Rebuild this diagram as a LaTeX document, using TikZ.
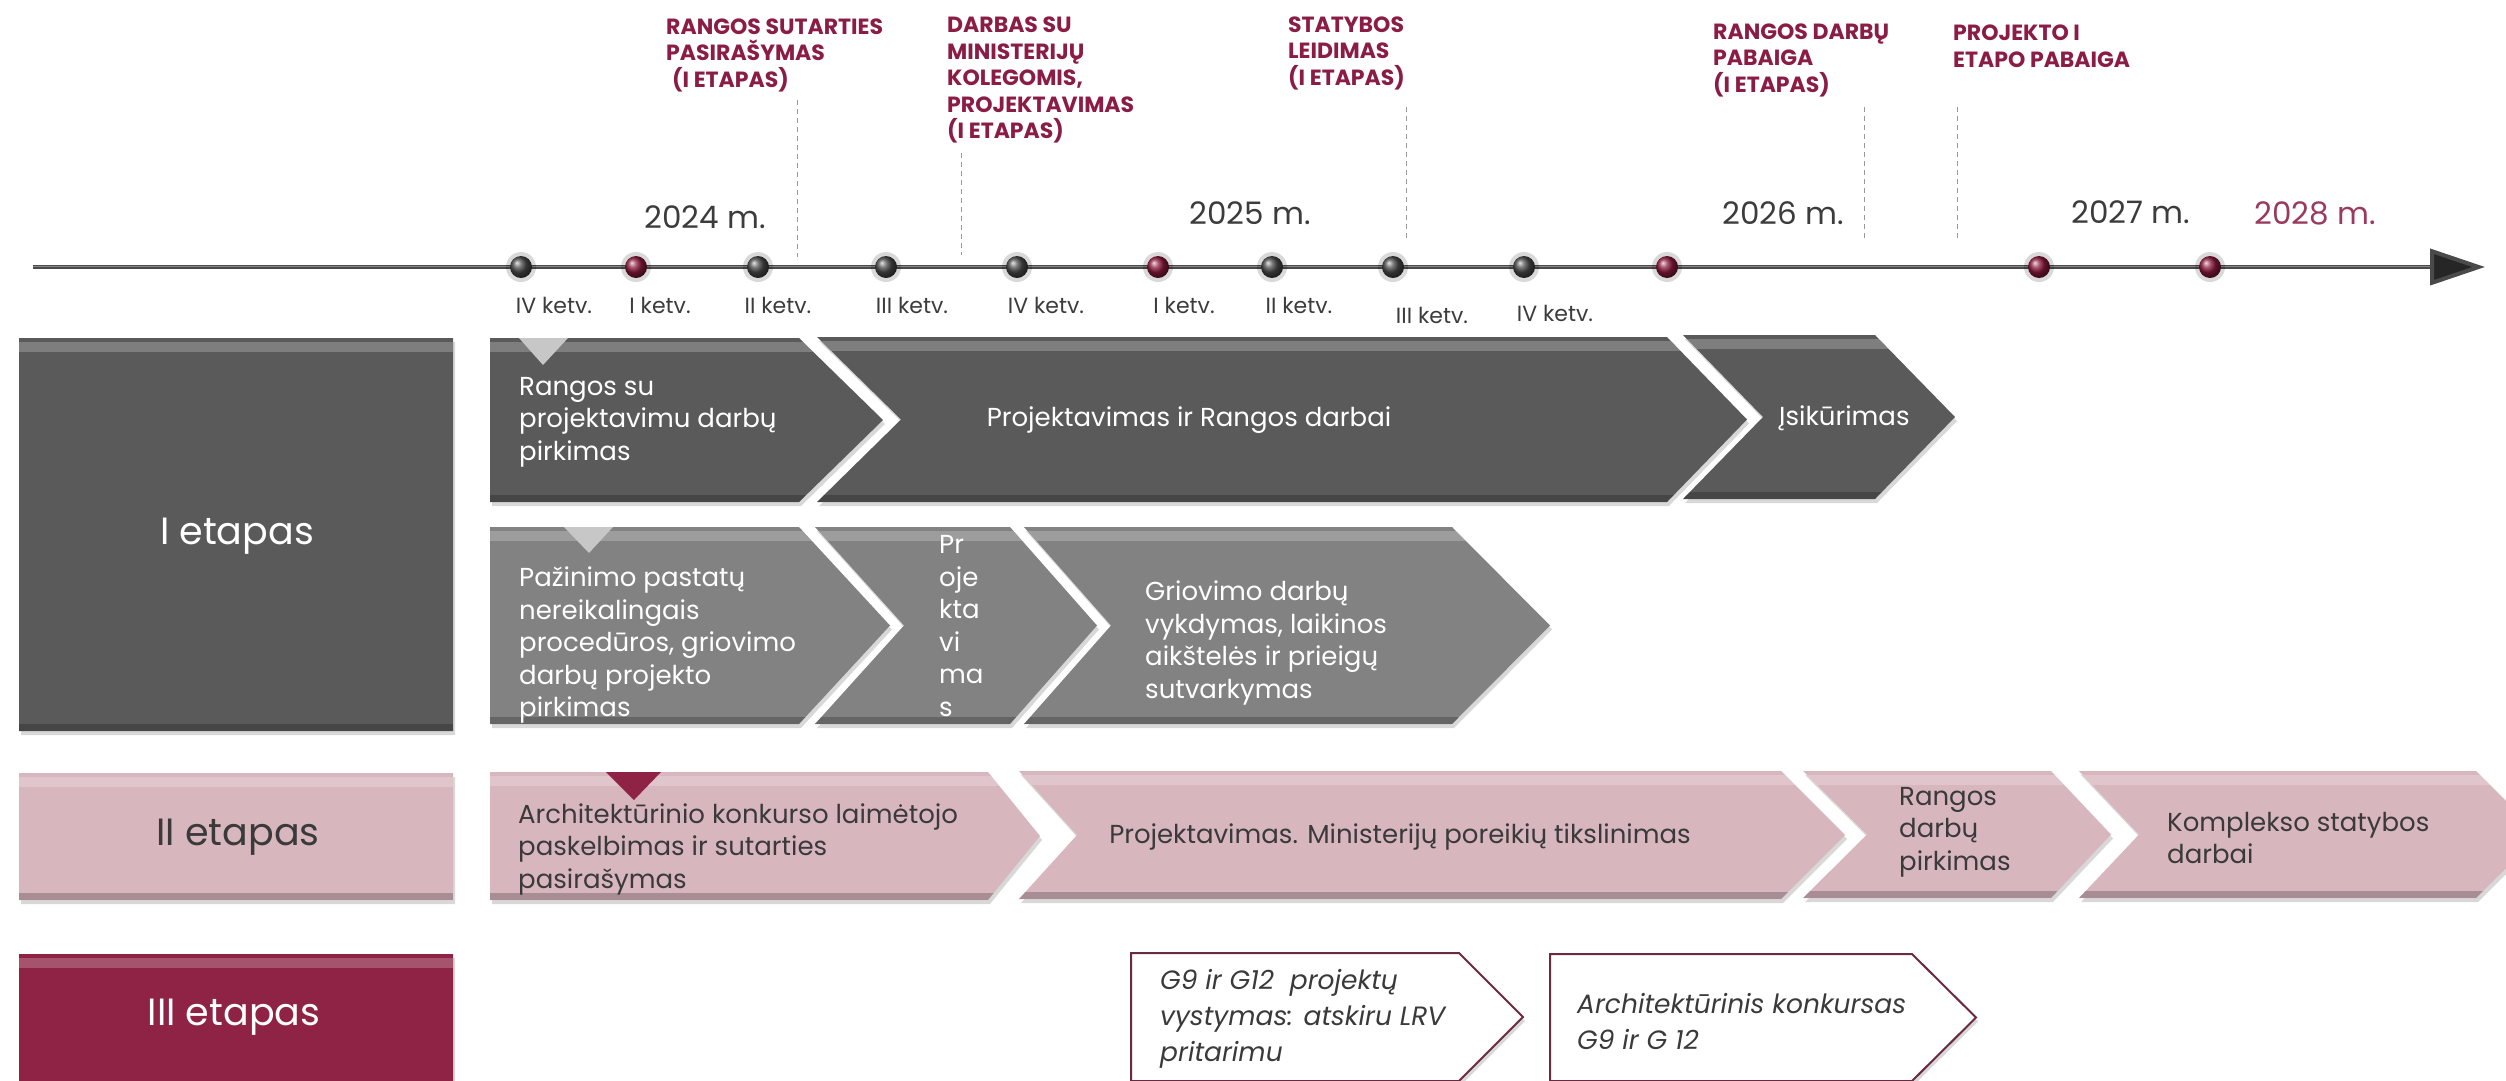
\documentclass[tikz,border=0pt]{standalone}
\usepackage{fontspec}
\setmainfont{Poppins}
\usetikzlibrary{arrows.meta,shadows}
\definecolor{rowA}{HTML}{5A5A5A}
\definecolor{rowB}{HTML}{828282}
\definecolor{rowC}{HTML}{D8B6BE}
\definecolor{maroon}{HTML}{8E2345}
\definecolor{hdr}{HTML}{8A1C45}
\definecolor{yr}{HTML}{3C3C3C}
\definecolor{yrred}{HTML}{9A3A5E}
\definecolor{dotg}{HTML}{4A4A4A}
\definecolor{dotr}{HTML}{8B1A3C}
\definecolor{dtxt}{HTML}{3A3A3A}
\definecolor{outl}{HTML}{6A2A40}
\newcommand\mychev[7]{%
  \pgfmathsetmacro\mymid{(#5+#6)/2}%
  \path[fill=#7, drop shadow={opacity=0.3,shadow xshift=2pt,shadow yshift=-4pt}]
    (#1,#5) -- (#3,#5) -- (#4,\mymid) -- (#3,#6) -- (#1,#6) -- (#2,\mymid) -- cycle;
  \begin{scope}
    \clip (#1,#5) -- (#3,#5) -- (#4,\mymid) -- (#3,#6) -- (#1,#6) -- (#2,\mymid) -- cycle;
    \fill[white,opacity=0.22] (#1,#5+4) rectangle (#4,#5+14);
    \fill[black,opacity=0.22] (#1,#6-7) rectangle (#4,#6);
  \end{scope}}
\newcommand\mywchev[6]{%
  \pgfmathsetmacro\mymid{(#5+#6)/2}%
  \path[fill=white, draw=outl, line width=2pt, drop shadow={opacity=0.3,shadow xshift=2pt,shadow yshift=-4pt}]
    (#1,#5) -- (#3,#5) -- (#4,\mymid) -- (#3,#6) -- (#1,#6) -- (#2,\mymid) -- cycle;}
\newcommand\mydot[3]{%
  \fill[black,opacity=0.15] (#2,267) circle (15pt);
  \shade[ball color=#3] (#2,267) circle (11pt);
  \coordinate (#1) at (#2,267);}
\tikzset{
  boxtxt/.style={font={\fontsize{26}{32.5}\selectfont}, text=white, align=left, inner sep=0pt, anchor=west},
  pinktxt/.style={boxtxt, text=dtxt},
  ittxt/.style={font={\fontsize{26.5}{36}\selectfont\itshape}, text=dtxt, align=left, inner sep=0pt, anchor=west},
  hdrtxt/.style={font={\fontsize{22}{26.5}\selectfont\bfseries}, text=hdr, align=left, inner sep=0pt, anchor=west},
  yeartxt/.style={font={\fontsize{31}{36}\selectfont}, text=yr, inner sep=0pt},
  qtxt/.style={font={\fontsize{22}{26}\selectfont}, text=yr, inner sep=0pt},
  stagetxt/.style={font={\fontsize{38}{44}\selectfont}, inner sep=0pt},
  guide/.style={draw=gray!80, line width=1pt, dash pattern=on 5pt off 4pt}
}
\begin{document}
\begin{tikzpicture}[x=1pt,y=-1pt]
\useasboundingbox (0,0) rectangle (2506,1080);
\clip (0,0) rectangle (2506,1080);
\fill[white] (0,0) rectangle (2506,1080);

% headers
\node[hdrtxt] (h1) at (666,55) {RANGOS SUTARTIES\\PASIRAŠYMAS\\\hspace*{6pt}(I ETAPAS)};
\node[hdrtxt] (h2) at (947,80) {DARBAS SU\\MINISTERIJŲ\\KOLEGOMIS,\\PROJEKTAVIMAS\\(I ETAPAS)};
\node[hdrtxt] (h3) at (1288,53) {STATYBOS\\LEIDIMAS\\(I ETAPAS)};
\node[hdrtxt] (h4) at (1713,60) {RANGOS DARBŲ\\PABAIGA\\(I ETAPAS)};
\node[hdrtxt] (h5) at (1953,46) {PROJEKTO I\\ETAPO PABAIGA};

% guide lines
\coordinate (g1a) at (797,100); \coordinate (g1b) at (797,257);
\coordinate (g2a) at (961,153); \coordinate (g2b) at (961,255);
\coordinate (g3a) at (1406,107); \coordinate (g3b) at (1406,240);
\coordinate (g4a) at (1864,107); \coordinate (g4b) at (1864,240);
\coordinate (g5a) at (1957,107); \coordinate (g5b) at (1957,240);
\foreach \g in {1,...,5} {\draw[guide] (g\g a) -- (g\g b);}

% years
\node[yeartxt] (y24) at (705,217) {2024 m.};
\node[yeartxt] (y25) at (1250,213) {2025 m.};
\node[yeartxt] (y26) at (1783,213) {2026 m.};
\node[yeartxt] (y27) at (2131,212) {2027 m.};
\node[yeartxt, text=yrred] (y28) at (2315,213) {2028 m.};

% timeline
\coordinate (tl0) at (33,267);
\coordinate (tl1) at (2485,267);
\draw[line width=4pt, draw=dotg, -{Triangle[length=55pt,width=36pt,fill=black!85]}] (tl0) -- (tl1);
\draw[line width=1pt, draw=white, opacity=0.35] (33,266) -- (2430,266);

\mydot{d1}{521}{dotg}
\mydot{d2}{636}{dotr}
\mydot{d3}{758}{dotg}
\mydot{d4}{886}{dotg}
\mydot{d5}{1017}{dotg}
\mydot{d6}{1158}{dotr}
\mydot{d7}{1272}{dotg}
\mydot{d8}{1393}{dotg}
\mydot{d9}{1524}{dotg}
\mydot{d10}{1667}{dotr}
\mydot{d11}{2039}{dotr}
\mydot{d12}{2210}{dotr}

% quarter labels
\node[qtxt] (q1) at (554,305) {IV ketv.};
\node[qtxt] (q2) at (660,305) {I ketv.};
\node[qtxt] (q3) at (778,305) {II ketv.};
\node[qtxt] (q4) at (912,305) {III ketv.};
\node[qtxt] (q5) at (1046,305) {IV ketv.};
\node[qtxt] (q6) at (1184,305) {I ketv.};
\node[qtxt] (q7) at (1299,305) {II ketv.};
\node[qtxt] (q8) at (1432,315) {III ketv.};
\node[qtxt] (q9) at (1555,313) {IV ketv.};

% stage labels
\mychev{19}{19}{453}{453}{338}{731}{rowA}
\mychev{19}{19}{453}{453}{773}{900}{rowC}
\mychev{19}{19}{453}{453}{954}{1095}{maroon}
\node[stagetxt, text=white] (s1) at (237,536) {I etapas};
\node[stagetxt, text=dtxt] (s2) at (238,837) {II etapas};
\node[stagetxt, text=white] (s3) at (234,1017) {III etapas};

% row A
\mychev{490}{490}{799}{883}{338}{502}{rowA}
\mychev{817}{901}{1667}{1747}{337}{502}{rowA}
\mychev{1683}{1763}{1875}{1955}{335}{499}{rowA}
\fill[black!22] (519,338) -- (568,338) -- (543,365) -- cycle;
\node[boxtxt] (a1) at (519,422) {Rangos su\\projektavimu darbų\\pirkimas};
\node[boxtxt, anchor=center] (a2) at (1189,420) {Projektavimas ir Rangos darbai};
\node[boxtxt] (a3) at (1779,418) {Įsikūrimas};

% row B
\mychev{490}{490}{799}{890}{527}{724}{rowB}
\mychev{815}{904}{1010}{1097}{527}{724}{rowB}
\mychev{1024}{1111}{1452}{1550}{527}{724}{rowB}
\fill[black!22] (564,527) -- (613,527) -- (589,553) -- cycle;
\node[boxtxt] (b1) at (519,645) {Pažinimo pastatų\\nereikalingais\\procedūros, griovimo\\darbų projekto\\pirkimas};
\node[boxtxt] (b2) at (939,626) {Pr\\oje\\kta\\vi\\ma\\s};
\node[boxtxt] (b3) at (1145,643) {Griovimo darbų\\vykdymas, laikinos\\aikštelės ir prieigų\\sutvarkymas};

% row C
\mychev{490}{490}{988}{1040}{772}{900}{rowC}
\mychev{1019}{1077}{1781}{1845}{771}{899}{rowC}
\mychev{1803}{1867}{2051}{2111}{771}{898}{rowC}
\mychev{2079}{2139}{2476}{2540}{771}{898}{rowC}
\fill[maroon] (606,772) -- (661,772) -- (634,800) -- cycle;
\node[pinktxt] (c1) at (518,849) {Architektūrinio konkurso laimėtojo\\paskelbimas ir sutarties\\pasirašymas};
\node[pinktxt, anchor=center] (c2) at (1400,837) {Projektavimas. Ministerijų poreikių tikslinimas};
\node[pinktxt] (c3) at (1899,832) {Rangos\\darbų\\pirkimas};
\node[pinktxt] (c4) at (2167,838) {Komplekso statybos\\darbai};

% row D
\mywchev{1131}{1131}{1459}{1523}{953}{1081}
\mywchev{1550}{1550}{1912}{1976}{954}{1081}
\node[ittxt] (e1) at (1160,1019) {G9 ir G12~ projektų\\vystymas: atskiru LRV\\pritarimu};
\node[ittxt] (e2) at (1577,1021) {Architektūrinis konkursas\\G9 ir G 12};
\end{tikzpicture}
\end{document}
